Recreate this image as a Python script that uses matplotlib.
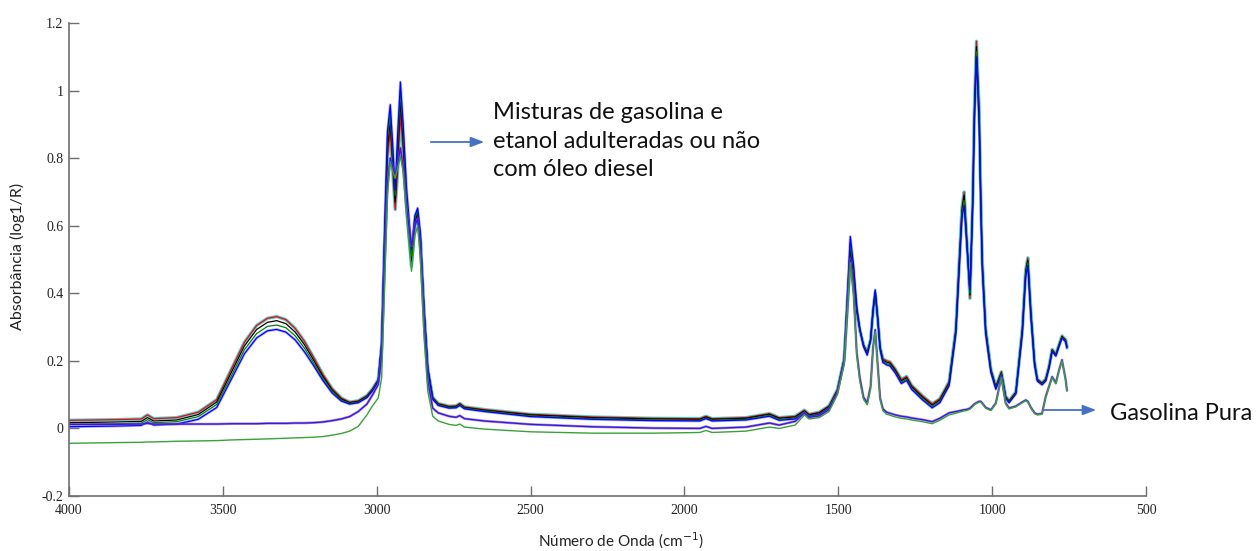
import matplotlib
matplotlib.use("Agg")
import matplotlib.pyplot as plt

# ---------------- data ----------------
wavenumber = [4000, 3850, 3765, 3745, 3725, 3650, 3580, 3520, 3470, 3430,
              3390, 3355, 3325, 3295, 3265, 3235, 3205, 3175, 3145, 3115,
              3088, 3060, 3032, 3013, 2995, 2984, 2975, 2965, 2956, 2948,
              2940, 2932, 2923, 2914, 2903, 2887, 2876, 2867, 2858, 2846,
              2834, 2818, 2800, 2765, 2742, 2730, 2715, 2650, 2500, 2300,
              2100, 1950, 1930, 1910, 1800, 1724, 1692, 1640, 1610, 1595,
              1562, 1530, 1503, 1481, 1470, 1461, 1450, 1440, 1430, 1418,
              1406, 1395, 1387, 1380, 1372, 1364, 1355, 1343, 1332, 1315,
              1295, 1278, 1262, 1227, 1195, 1170, 1140, 1118, 1107, 1098,
              1091, 1083, 1072, 1063, 1058, 1051, 1042, 1037, 1032, 1021,
              1004, 988, 970, 956, 945, 923, 902, 891, 884, 874,
              862, 853, 838, 826, 815, 805, 793, 782, 773, 761,
              757]

mix_red = [.024, .026, .028, .040, .029, .032, .048, .085, .180, .255,
           .305, .326, .331, .322, .296, .258, .210, .160, .118, .090,
           .078, .082, .097, .118, .145, .240, .520, .800, .880, .760,
           .648, .760, .930, .820, .650, .480, .600, .635, .560, .340,
           .175, .092, .074, .066, .067, .074, .064, .056, .042, .034,
           .030, .029, .036, .029, .032, .044, .032, .036, .054, .042,
           .048, .067, .115, .205, .370, .500, .440, .345, .290, .248,
           .226, .262, .345, .400, .325, .240, .206, .200, .197, .176,
           .145, .154, .128, .097, .073, .088, .138, .295, .495, .655,
           .700, .570, .385, .690, .940, 1.146, .940, .690, .495, .295,
           .175, .125, .168, .095, .082, .108, .295, .470, .505, .345,
           .196, .146, .135, .146, .185, .234, .220, .250, .274, .262,
           .244]

mix_black = [.017, .019, .021, .032, .022, .025, .041, .078, .170, .244,
             .293, .314, .319, .310, .285, .248, .202, .154, .114, .087,
             .076, .080, .095, .116, .143, .245, .535, .830, .910, .790,
             .670, .800, .970, .850, .670, .495, .610, .642, .565, .345,
             .176, .090, .072, .064, .065, .072, .062, .054, .040, .032,
             .028, .027, .034, .027, .030, .042, .030, .034, .052, .040,
             .046, .065, .113, .205, .385, .530, .455, .350, .292, .246,
             .223, .262, .348, .405, .326, .238, .202, .196, .193, .172,
             .141, .150, .124, .093, .069, .084, .134, .290, .488, .645,
             .690, .565, .395, .680, .925, 1.130, .925, .680, .488, .290,
             .172, .122, .165, .093, .080, .106, .290, .462, .498, .340,
             .193, .144, .133, .144, .183, .232, .218, .248, .272, .260,
             .242]

mix_green = [.012, .014, .016, .026, .017, .020, .035, .071, .160, .233,
             .281, .302, .306, .298, .274, .238, .194, .148, .110, .084,
             .074, .078, .093, .114, .141, .250, .550, .860, .935, .815,
             .690, .840, 1.000, .880, .690, .510, .620, .648, .570, .350,
             .177, .088, .070, .062, .063, .070, .060, .052, .037, .029,
             .025, .024, .031, .024, .027, .039, .027, .031, .049, .037,
             .043, .062, .110, .204, .395, .550, .470, .355, .294, .244,
             .220, .262, .350, .408, .327, .236, .198, .192, .189, .168,
             .137, .146, .120, .089, .065, .080, .130, .285, .480, .635,
             .675, .560, .400, .670, .910, 1.115, .910, .670, .480, .285,
             .169, .119, .162, .091, .078, .104, .285, .455, .490, .335,
             .190, .142, .131, .142, .181, .230, .216, .246, .270, .258,
             .240]

mix_blue = [.005, .007, .009, .019, .010, .013, .027, .062, .150, .221,
            .268, .289, .293, .285, .262, .227, .186, .142, .105, .081,
            .072, .076, .091, .112, .139, .255, .565, .880, .958, .840,
            .705, .870, 1.025, .900, .710, .530, .630, .652, .575, .355,
            .178, .086, .068, .060, .061, .068, .058, .050, .035, .027,
            .023, .022, .029, .022, .025, .036, .024, .028, .047, .035,
            .041, .060, .108, .203, .405, .568, .480, .360, .296, .242,
            .217, .262, .352, .410, .328, .234, .195, .188, .185, .164,
            .133, .142, .116, .085, .061, .076, .126, .280, .472, .625,
            .660, .555, .410, .660, .895, 1.100, .895, .660, .472, .280,
            .166, .116, .158, .089, .076, .102, .280, .448, .482, .330,
            .187, .140, .129, .140, .179, .228, .214, .244, .268, .256,
            .238]

pure_gasoline_a = [.012, .012, .013, .015, .013, .013, .013, .013, .014, .014,
                   .014, .015, .015, .015, .016, .016, .017, .019, .023, .028,
                   .035, .050, .072, .100, .130, .210, .470, .720, .800, .770,
                   .750, .780, .830, .770, .650, .540, .600, .620, .530, .300,
                   .140, .060, .046, .036, .033, .038, .029, .022, .012, .005,
                   .001, .000, .006, .000, .004, .016, .010, .021, .046, .033,
                   .037, .056, .105, .196, .360, .500, .400, .225, .150, .092,
                   .076, .125, .240, .292, .190, .090, .058, .048, .045, .040,
                   .036, .034, .031, .026, .020, .030, .046, .050, .052, .054,
                   .055, .056, .060, .068, .072, .076, .080, .080, .075, .062,
                   .055, .075, .153, .075, .060, .066, .078, .084, .080, .062,
                   .046, .042, .044, .094, .125, .153, .135, .175, .203, .144,
                   .114]

pure_gasoline_b = [-.044, -.042, -.041, -.040, -.040, -.038, -.037, -.036, -.034, -.033,
                   -.032, -.031, -.030, -.029, -.028, -.027, -.026, -.024, -.020, -.015,
                   -.008, .006, .040, .068, .090, .150, .400, .690, .790, .760,
                   .740, .770, .805, .760, .630, .465, .570, .600, .500, .270,
                   .110, .036, .022, .012, .009, .013, .004, -.002, -.010, -.014,
                   -.014, -.012, -.006, -.012, -.008, .004, .000, .010, .040, .028,
                   .032, .050, .100, .190, .350, .490, .390, .215, .140, .086,
                   .070, .118, .234, .286, .184, .085, .052, .042, .039, .034,
                   .030, .028, .025, .020, .014, .024, .040, .045, .048, .050,
                   .052, .053, .057, .065, .070, .074, .078, .078, .073, .060,
                   .053, .073, .150, .072, .058, .064, .076, .082, .078, .060,
                   .044, .040, .042, .092, .122, .150, .132, .172, .200, .140,
                   .110]

x_ticks = [4000, 3500, 3000, 2500, 2000, 1500, 1000, 500]
x_tick_labels = ["4000", "3500", "3000", "2500", "2000", "1500", "1000", "500"]
y_ticks = [-0.2, 0.0, 0.2, 0.4, 0.6, 0.8, 1.0, 1.2]
y_tick_labels = ["-0.2", "0", "0.2", "0.4", "0.6", "0.8", "1", "1.2"]

label_mix = "Misturas de gasolina e\netanol adulteradas ou não\ncom óleo diesel"
label_pure = "Gasolina Pura"
x_label = "Número de Onda (cm$^{-1}$)"
y_label = "Absorbância (log1/R)"

# ---------------- figure ----------------
W, H = 1258, 551
fig = plt.figure(figsize=(W / 100, H / 100), dpi=100)
ax = fig.add_axes([69 / W, 1 - 496 / H, (1146 - 69) / W, (496 - 23) / H])

# mixture band
ax.plot(wavenumber, mix_red, color="#00c0c0", lw=2.4, alpha=0.7)
ax.plot(wavenumber, mix_blue, color="#8080ff", lw=2.0, alpha=0.6)
ax.plot(wavenumber, mix_red, color="#ff0000", lw=0.9)
ax.plot(wavenumber, mix_black, color="#000000", lw=0.9)
ax.plot(wavenumber, mix_green, color="#008000", lw=0.9)
ax.plot(wavenumber, mix_blue, color="#0000ff", lw=0.9)

# pure gasoline
ax.plot(wavenumber, pure_gasoline_a, color="#a040c0", lw=1.8, alpha=0.7)
ax.plot(wavenumber, pure_gasoline_a, color="#2020e0", lw=0.9)
ax.plot(wavenumber, pure_gasoline_b, color="#3aa03a", lw=1.0)

ax.set_xlim(4000, 500)
ax.set_ylim(-0.2, 1.2)
ax.set_xticks(x_ticks)
ax.set_xticklabels(x_tick_labels)
ax.set_yticks(y_ticks)
ax.set_yticklabels(y_tick_labels)

for s in ["top", "right"]:
    ax.spines[s].set_visible(False)
for s in ["left", "bottom"]:
    ax.spines[s].set_color("#6e6e6e")
    ax.spines[s].set_linewidth(1.2)

ax.tick_params(direction="in", length=7, width=1.0, color="#6e6e6e",
               labelsize=10)
ax.tick_params(axis="x", pad=6)
ax.tick_params(axis="y", pad=4)
for lab in ax.get_xticklabels() + ax.get_yticklabels():
    lab.set_family("Liberation Serif")
    lab.set_color("#222222")

ax.set_xlabel(x_label, family="Lato", fontsize=11, color="#222222")
ax.set_ylabel(y_label, family="Lato", fontsize=11.5, color="#222222")
ax.xaxis.set_label_coords((621 - 69) / (1146 - 69), -(531 - 496) / (496 - 23))
ax.yaxis.set_label_coords(-(69 - 25) / (1146 - 69), (496 - 256) / (496 - 23))

# annotations
fig.text(493 / W, 1 - 141 / H, label_mix, family="Lato", fontsize=17,
         ha="left", va="center", linespacing=1.45, color="#111111")
fig.text(1110 / W, 1 - 413 / H, label_pure, family="Lato", fontsize=17,
         ha="left", va="center", color="#111111")
arrow_style = dict(arrowstyle="-|>,head_length=0.8,head_width=0.3",
                   color="#4472c4", lw=1.3)
fig.add_artist(matplotlib.patches.FancyArrowPatch(
    (428 / W, 1 - 142 / H), (487 / W, 1 - 142 / H),
    transform=fig.transFigure, mutation_scale=10, **arrow_style))
fig.add_artist(matplotlib.patches.FancyArrowPatch(
    (1040 / W, 1 - 410 / H), (1099 / W, 1 - 410 / H),
    transform=fig.transFigure, mutation_scale=10, **arrow_style))

fig.savefig("out.png", dpi=100)
